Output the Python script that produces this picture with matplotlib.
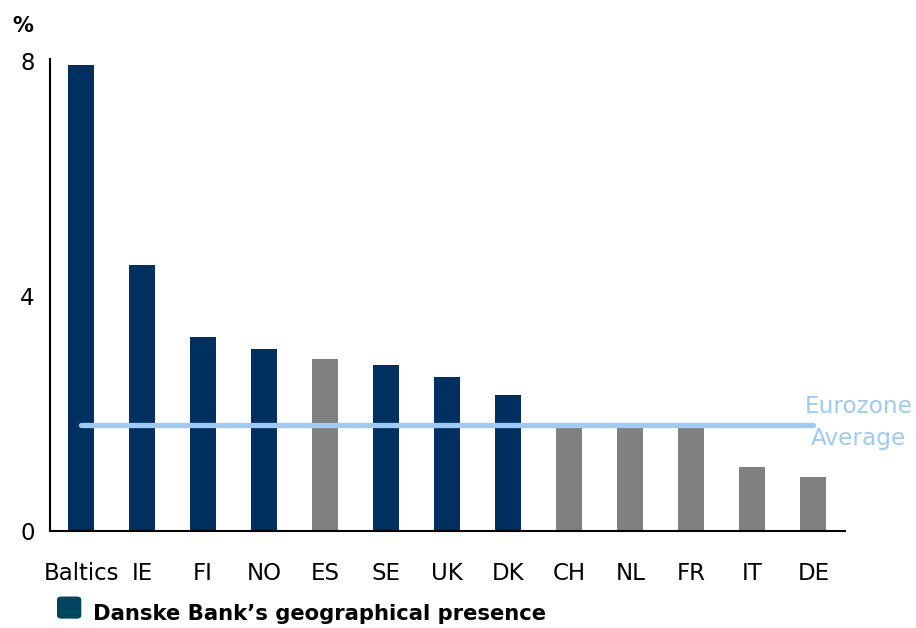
import numpy as np
import matplotlib.pyplot as plt
from matplotlib.patches import FancyBboxPatch

# Werte
countries = ['Baltics', 'IE', 'FI', 'NO', 'ES', 'SE', 'UK', 'DK', 'CH', 'NL', 'FR', 'IT', 'DE']
values = [7.93, 4.53, 3.30, 3.10, 2.93, 2.83, 2.62, 2.31, 1.75, 1.75, 1.75, 1.09, 0.92]
danske = [True, True, True, True, False, True, True, True, False, False, False, False, False]
eurozone_avg = 1.8

navy = '#00305f'
grey = '#808080'
lightblue = '#9dcbf8'

plt.rcParams['font.family'] = ['DejaVu Sans']

fig = plt.figure(figsize=(9.16, 6.28), dpi=100)
ax = fig.add_axes([0.0546, 0.1545, 0.868, 0.7515])

x = np.arange(len(countries))
colors = [navy if d else grey for d in danske]
ax.bar(x, values, width=0.43, color=colors, zorder=2)

# Eurozone-Durchschnitt als Linie ueber die Balken
ax.plot([x[0], x[-1]], [eurozone_avg, eurozone_avg], color=lightblue, lw=3.8,
        solid_capstyle='round', zorder=3)
ax.text(x[-1] + 0.74, eurozone_avg + 0.32, 'Eurozone', color=lightblue,
        fontsize=16.7, ha='center', va='center')
ax.text(x[-1] + 0.74, eurozone_avg - 0.22, 'Average', color=lightblue,
        fontsize=16.7, ha='center', va='center')

ax.set_xlim(-0.51, 12.52)
ax.set_ylim(0, 8.03)
ax.set_yticks([0, 4, 8])
ax.set_xticks(x)
ax.set_xticklabels(countries)
ax.tick_params(length=0, labelsize=16.5)
ax.tick_params(axis='y', pad=11)
ax.tick_params(axis='x', pad=22)

for s in ['top', 'right']:
    ax.spines[s].set_visible(False)
for s in ['left', 'bottom']:
    ax.spines[s].set_linewidth(1.5)

fig.text(0.014, 0.958, '%', fontsize=15, fontweight='bold', va='center', ha='left')

# Legende
fig.patches.append(FancyBboxPatch((0.065, 0.018), 0.021, 0.029,
                                  boxstyle='round,pad=0.002,rounding_size=0.004',
                                  transform=fig.transFigure, color='#00455f', figure=fig))
fig.text(0.101, 0.0225, "Danske Bank\u2019s geographical presence", fontsize=15.2,
         fontweight='bold', va='center', ha='left')

fig.savefig('out.png', dpi=100)
